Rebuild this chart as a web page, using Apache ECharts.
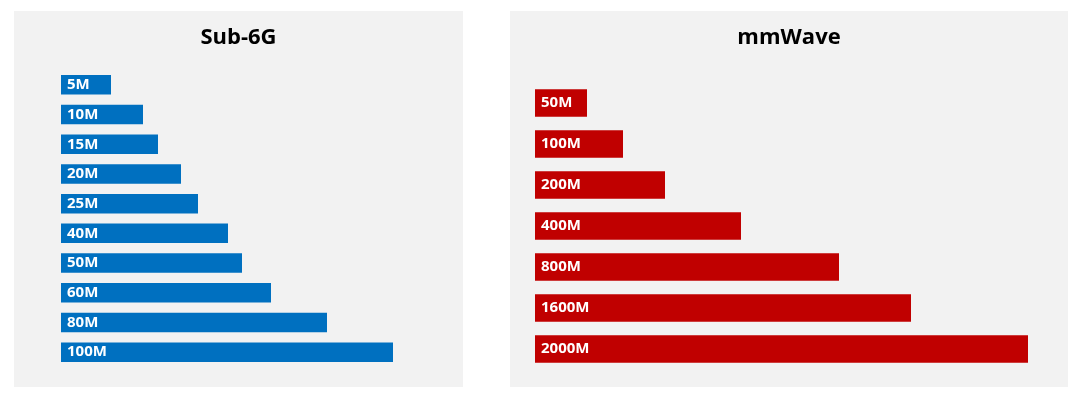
<!DOCTYPE html>
<html>
<head>
<meta charset="utf-8">
<script src="https://cdn.jsdelivr.net/npm/echarts@6/dist/echarts.min.js"></script>
<style>
html,body{margin:0;padding:0;background:#fff;}
#c{width:1080px;height:396px;}
</style>
</head>
<body>
<div id="c"></div>
<script>
// Data (bar lengths, relative units)
const sub6Categories = ['5M','10M','15M','20M','25M','40M','50M','60M','80M','100M'];
const sub6Values = [50, 82, 97, 120, 137, 167, 181, 210, 266, 332];
const mmCategories = ['50M','100M','200M','400M','800M','1600M','2000M'];
const mmValues = [52, 88, 130, 206, 304, 376, 493];
const titles = ['Sub-6G', 'mmWave'];

const chart = echarts.init(document.getElementById('c'), null, {renderer: 'canvas'});
const labelStyle = {
  show: true, position: 'insideLeft', distance: 6,
  formatter: p => p.name,
  color: '#ffffff', fontFamily: 'Open Sans', fontWeight: 'bold', fontSize: 15
};
chart.setOption({
  backgroundColor: '#ffffff',
  animation: false,
  graphic: [
    {type: 'rect', z: -10, shape: {x: 14, y: 11, width: 449, height: 376}, style: {fill: '#F2F2F2'}},
    {type: 'rect', z: -10, shape: {x: 510, y: 11, width: 558, height: 376}, style: {fill: '#F2F2F2'}}
  ],
  title: [
    {text: titles[0], left: 238.5, top: 27, textAlign: 'center', padding: 0,
     textStyle: {fontFamily: 'Open Sans', fontWeight: 'bold', fontSize: 22, color: '#000'}},
    {text: titles[1], left: 789, top: 27, textAlign: 'center', padding: 0,
     textStyle: {fontFamily: 'Open Sans', fontWeight: 'bold', fontSize: 22, color: '#000'}}
  ],
  grid: [
    {left: 61, top: 70, width: 400, height: 297},
    {left: 535, top: 82.5, width: 500, height: 287}
  ],
  xAxis: [
    {gridIndex: 0, type: 'value', min: 0, max: 400, show: false},
    {gridIndex: 1, type: 'value', min: 0, max: 500, show: false}
  ],
  yAxis: [
    {gridIndex: 0, type: 'category', data: sub6Categories, inverse: true, show: false},
    {gridIndex: 1, type: 'category', data: mmCategories, inverse: true, show: false}
  ],
  series: [
    {type: 'bar', xAxisIndex: 0, yAxisIndex: 0, data: sub6Values, barWidth: 19.5,
     itemStyle: {color: '#0070C0'}, label: labelStyle},
    {type: 'bar', xAxisIndex: 1, yAxisIndex: 1, data: mmValues, barWidth: 27.5,
     itemStyle: {color: '#C00000'}, label: labelStyle}
  ]
});
</script>
</body>
</html>
